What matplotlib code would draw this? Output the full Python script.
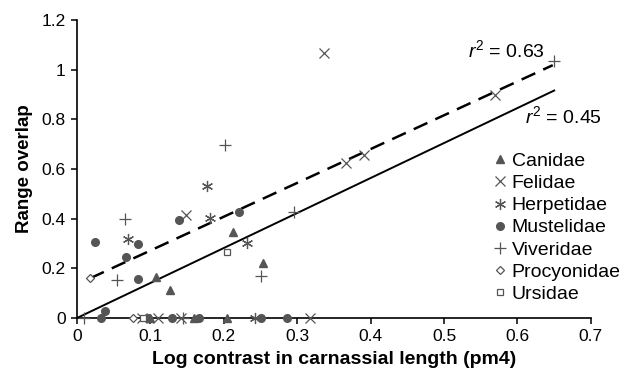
import matplotlib
matplotlib.use("Agg")
import matplotlib.pyplot as plt
import numpy as np

plt.rcParams['font.family'] = ['Liberation Sans', 'DejaVu Sans']
plt.rcParams['mathtext.fontset'] = 'custom'
plt.rcParams['mathtext.rm'] = 'Liberation Sans'
plt.rcParams['mathtext.it'] = 'Liberation Sans:italic'
plt.rcParams['mathtext.bf'] = 'Liberation Sans:bold'

# data (x: log contrast, y: range overlap)
canidae_x = [0.107, 0.127, 0.212, 0.254, 0.100, 0.160, 0.204]
canidae_y = [0.166, 0.112, 0.347, 0.220, 0.0, 0.0, 0.0]
felidae_x = [0.337, 0.366, 0.391, 0.570, 0.149, 0.089, 0.110, 0.141, 0.317]
felidae_y = [1.067, 0.625, 0.657, 0.896, 0.414, 0.0, 0.0, 0.0, 0.0]
herpet_x = [0.177, 0.070, 0.181, 0.232, 0.242]
herpet_y = [0.531, 0.320, 0.403, 0.300, 0.0]
mustel_x = [0.025, 0.067, 0.083, 0.083, 0.139, 0.221, 0.038, 0.033, 0.097, 0.130, 0.166, 0.251, 0.286]
mustel_y = [0.306, 0.246, 0.298, 0.157, 0.396, 0.427, 0.028, 0.0, 0.0, 0.0, 0.0, 0.0, 0.0]
viver_x = [0.201, 0.650, 0.065, 0.055, 0.296, 0.250, 0.009, 0.145]
viver_y = [0.695, 1.035, 0.398, 0.153, 0.427, 0.170, 0.0, 0.0]
procy_x = [0.018, 0.076]
procy_y = [0.160, 0.0]
ursid_x = [0.205, 0.090]
ursid_y = [0.264, 0.0]

dash_x = [0.018, 0.648]
dash_y = [0.160, 1.018]
solid_x = [0.0, 0.65]
solid_y = [0.0, 0.916]

xticks = [0, 0.1, 0.2, 0.3, 0.4, 0.5, 0.6, 0.7]
xticklabels = ["0", "0.1", "0.2", "0.3", "0.4", "0.5", "0.6", "0.7"]
yticks = [0, 0.2, 0.4, 0.6, 0.8, 1.0, 1.2]
yticklabels = ["0", "0.2", "0.4", "0.6", "0.8", "1", "1.2"]

fig = plt.figure(figsize=(6.32, 3.77), dpi=100)
ax = fig.add_axes([0.1218, 0.1565, 0.8132, 0.7905])

col = '#555555'
ax.plot(solid_x, solid_y, color='black', lw=1.4, zorder=1)
ax.plot(dash_x, dash_y, color='black', lw=1.8, ls=(0, (6, 3.5)), zorder=1)

kw = dict(color=col, clip_on=False, ls='none', zorder=3)
ax.plot(canidae_x, canidae_y, marker='^', ms=5.5, label='Canidae', **kw)
ax.plot(felidae_x, felidae_y, marker='x', ms=7.5, mew=0.9, label='Felidae', **kw)
ax.plot(herpet_x, herpet_y, marker=(6, 2, 0), ms=8, mew=0.9, label='Herpetidae', **kw)
ax.plot(mustel_x, mustel_y, marker='o', ms=5.5, label='Mustelidae', **kw)
ax.plot(viver_x, viver_y, marker='+', ms=8, mew=0.9, label='Viveridae', **kw)
ax.plot(procy_x, procy_y, marker='D', ms=4.5, mfc='white', mew=0.9, label='Procyonidae', **kw)
ax.plot(ursid_x, ursid_y, marker='s', ms=4, mfc='white', mew=0.9, label='Ursidae', **kw)

ax.text(0.533, 1.051, r'$r^2$ = 0.63', fontsize=14, ha='left', va='baseline')
ax.text(0.610, 0.785, r'$r^2$ = 0.45', fontsize=14, ha='left', va='baseline')

ax.set_xlim(0, 0.7)
ax.set_ylim(0, 1.2)
ax.set_xticks(xticks)
ax.set_xticklabels(xticklabels, fontsize=12.5)
ax.set_yticks(yticks)
ax.set_yticklabels(yticklabels, fontsize=12.5)
ax.tick_params(direction='out', length=4, width=1.1, pad=4)
for s in ['top', 'right']:
    ax.spines[s].set_visible(False)
for s in ['left', 'bottom']:
    ax.spines[s].set_linewidth(1.2)

ax.set_xlabel('Log contrast in carnassial length (pm4)', fontsize=14, fontweight='bold', labelpad=5)
ax.set_ylabel('Range overlap', fontsize=13.5, fontweight='bold', labelpad=6)

leg = ax.legend(loc='upper left', bbox_to_anchor=(0.811, 0.555), frameon=False,
                fontsize=14, handlelength=0.6, handletextpad=0.32,
                labelspacing=0.23, borderpad=0, borderaxespad=0)

fig.savefig('out.png', dpi=100)
